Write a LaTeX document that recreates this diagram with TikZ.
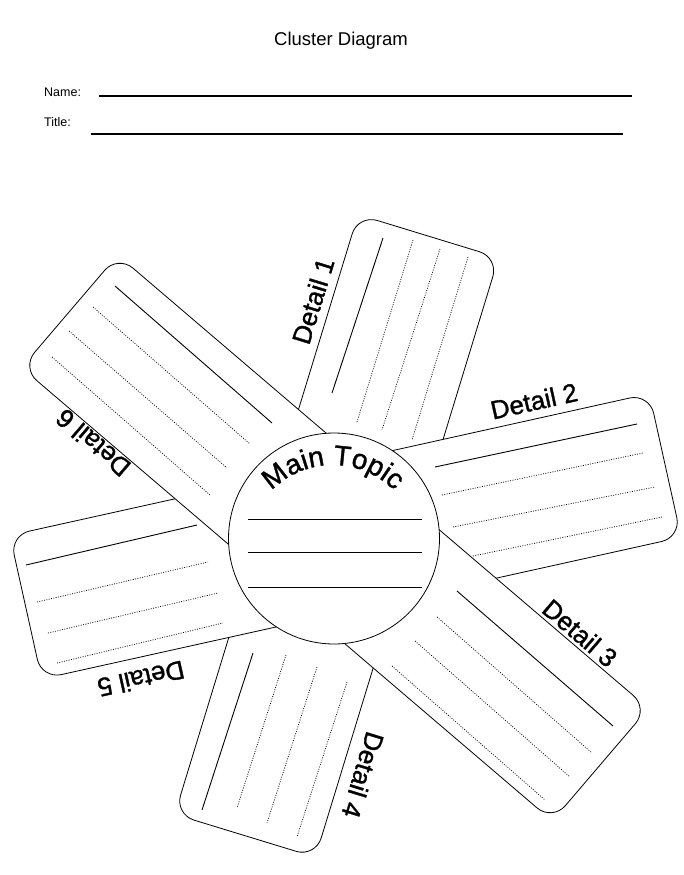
\documentclass[tikz,border=0pt]{standalone}
\usepackage{fontspec}
\setmainfont{Liberation Sans}
\newfontfamily\lblfont{Liberation Sans}[FakeBold=1.2]
\usetikzlibrary{decorations.text}
\begin{document}
\begin{tikzpicture}[x=1pt,y=-1pt,
  bar/.style={draw, fill=white, line width=0.8pt, rounded corners=20pt, inner sep=0pt, rectangle},
  wline/.style={line width=0.9pt},
  dline/.style={line width=0.75pt, dash pattern=on 0.9pt off 1.5pt},
  hline/.style={line width=1.1pt},
  lbl/.style={font=\lblfont\fontsize{26}{26}\selectfont, inner sep=0pt},
]
\fill[white] (0,0) rectangle (684,875);
\useasboundingbox (0,0) rectangle (684,875);

% header
\node[font=\fontsize{18.5}{20}\selectfont, inner sep=0pt] (heading) at (341,41) {Cluster Diagram};
\node[font=\fontsize{12.5}{14}\selectfont, anchor=base west, inner sep=0pt] (namelbl) at (44,96) {Name:};
\node[font=\fontsize{12.5}{14}\selectfont, anchor=base west, inner sep=0pt] (titlelbl) at (44,126) {Title:};
\draw[hline] (99,96) -- (632,96);
\draw[hline] (91,134) -- (623,134);

% bar A: Detail 1 / Detail 4
\node[bar, minimum width=627pt, minimum height=147pt, rotate=73] (barA) at (336.7,535.9) {};
\draw[wline] (383,238) -- (332,393);
\draw[dline] (413,240) -- (357,422);
\draw[dline] (440,249) -- (382,430);
\draw[dline] (468,257) -- (412,440);
\draw[wline] (253,653) -- (202,810);
\draw[dline] (286,655) -- (237,808);
\draw[dline] (317,667) -- (267,823);
\draw[dline] (347,682) -- (297,837);

% bar B: Detail 2 / Detail 5
\node[bar, minimum width=655pt, minimum height=147pt, rotate=12.5] (barB) at (345.5,536.3) {};
\draw[wline] (435,467) -- (637,424);
\draw[dline] (442,495) -- (643,453);
\draw[dline] (453,527) -- (655,487);
\draw[dline] (473,556) -- (662,517);
\draw[wline] (26,565) -- (197,525);
\draw[dline] (37,602) -- (208,562);
\draw[dline] (48,633) -- (218,593);
\draw[dline] (57,663) -- (223,623);

% bar C: Detail 3 / Detail 6
\node[bar, minimum width=698pt, minimum height=148pt, rotate=-40.5] (barC) at (335,538) {};
\draw[wline] (457,591) -- (613,726);
\draw[dline] (437,617) -- (592,753);
\draw[dline] (415,641) -- (570,777);
\draw[dline] (392,666) -- (545,800);
\draw[wline] (115,286) -- (272,423);
\draw[dline] (93,307) -- (250,444);
\draw[dline] (69,331) -- (227,468);
\draw[dline] (52,357) -- (210,495);

% main topic circle
\node[circle, draw, fill=white, line width=0.8pt, minimum size=211pt, inner sep=0pt] (main) at (334,538.5) {};
\draw[wline] (248,519) -- (422,519);
\draw[wline] (248,552) -- (422,552);
\draw[wline] (248,587) -- (422,587);
\path[decorate, decoration={text along path, text={|\lblfont\fontsize{28}{28}\selectfont|Main Topic}, text align=center}]
  (333,551) ++(195:86) arc[start angle=195, end angle=345, radius=86];

% labels
\node[lbl, rotate=73] (d1) at (313,301) {Detail 1};
\node[lbl, rotate=12.5] (d2) at (534,401) {Detail 2};
\node[lbl, rotate=-40.5] (d3) at (580,633) {Detail 3};
\node[lbl, rotate=-107] (d4) at (363,775) {Detail 4};
\node[lbl, rotate=192.5] (d5) at (141,679) {Detail 5};
\node[lbl, rotate=139.5] (d6) at (93,443) {Detail 6};
\end{tikzpicture}
\end{document}
